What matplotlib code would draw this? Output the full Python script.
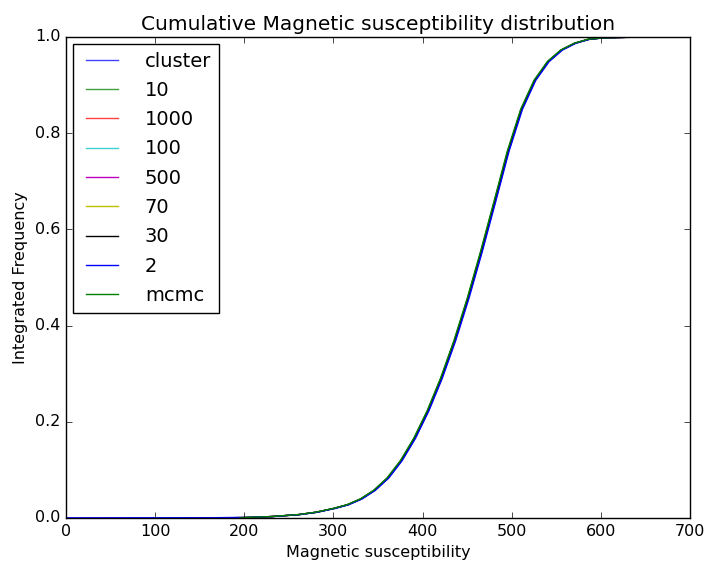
import matplotlib
matplotlib.use("Agg")
import matplotlib.pyplot as plt

plt.style.use("classic")
plt.rcParams["font.family"] = ["DejaVu Sans"]
plt.rcParams["font.size"] = 11.5

# cumulative frequency levels (shared)
levels = [0.0, 0.0005, 0.001, 0.003, 0.007, 0.012, 0.020, 0.0275, 0.0395, 0.0575,
          0.083, 0.119, 0.1655, 0.2225, 0.290, 0.368, 0.4565, 0.554, 0.6575, 0.7625,
          0.8495, 0.910, 0.949, 0.973, 0.987, 0.995, 0.998, 0.999, 1.0]

labels = ["cluster", "10", "1000", "100", "500", "70", "30", "2", "mcmc"]
colors = ["b", "g", "r", "c", "m", "y", "k", "b", "g"]
alphas = [0.75, 0.75, 0.75, 0.75, 1.0, 1.0, 1.0, 1.0, 1.0]

# x positions (magnetic susceptibility) at which each series reaches each level
x_cluster = [0, 150, 200, 231.5, 261.5, 281.5, 301.5, 316.5, 331.5, 346.5, 361.5, 376.5, 391.5, 406.5, 421.5, 436.5, 451.5, 466.5, 481.5, 496.5, 511.5, 526.5, 541.5, 556.5, 571.5, 586.5, 601.5, 621, 640]
x_10 = [160, 190, 205, 230.5, 260.5, 280.5, 300.5, 315.5, 330.5, 345.5, 360.5, 375.5, 390.5, 405.5, 420.5, 435.5, 450.5, 465.5, 480.5, 495.5, 510.5, 525.5, 540.5, 555.5, 570.5, 585.5, 600.5, 620, 648]
x_1000 = [150, 185, 204, 231, 261, 281, 301, 316, 331, 346, 361, 376, 391, 406, 421, 436, 451, 466, 481, 496, 511, 526, 541, 556, 571, 586, 601, 620, 645]
x_100 = [100, 170, 203, 231, 261, 281, 301, 316, 331, 346, 361, 376, 391, 406, 421, 436, 451, 466, 481, 496, 511, 526, 541, 556, 571, 586, 601, 621, 650]
x_500 = [140, 180, 203, 230.5, 260.5, 280.5, 300.5, 315.5, 330.5, 345.5, 360.5, 375.5, 390.5, 405.5, 420.5, 435.5, 450.5, 465.5, 480.5, 495.5, 510.5, 525.5, 540.5, 555.5, 570.5, 585.5, 600.5, 622, 664]
x_70 = [160, 190, 205, 231, 261, 281, 301, 316, 331, 346, 361, 376, 391, 406, 421, 436, 451, 466, 481, 496, 511, 526, 541, 556, 571, 586, 601, 620, 645]
x_30 = [150, 185, 204, 231, 261, 281, 301, 316, 331, 346, 361, 376, 391, 406, 421, 436, 451, 466, 481, 496, 511, 526, 541, 556, 571, 586, 601, 620, 648]
x_2 = [0, 160, 202, 232, 262, 282, 302, 317, 332, 347, 362, 377, 392, 407, 422, 437, 452, 467, 482, 497, 512, 527, 542, 557, 572, 587, 602, 622, 642]
x_mcmc = [195, 198, 200, 230, 260, 280, 300, 315, 330, 345, 360, 375, 390, 405, 420, 435, 450, 465, 480, 495, 510, 525, 540, 555, 570, 585, 600, 620, 652]

series_x = [x_cluster, x_10, x_1000, x_100, x_500, x_70, x_30, x_2, x_mcmc]

fig = plt.figure(figsize=(7.09, 5.62), dpi=100, facecolor="white")
ax = fig.add_axes([0.0931, 0.0783, 0.8801, 0.8559])
for xs, lab, col, a in zip(series_x, labels, colors, alphas):
    ax.plot(xs, levels, color=col, label=lab, lw=1.0, alpha=a)

ax.set_xlim(0, 700)
ax.set_ylim(0, 1.0)
ax.set_xticks(range(0, 701, 100))
ax.set_yticks([0.0, 0.2, 0.4, 0.6, 0.8, 1.0])
ax.set_title("Cumulative Magnetic susceptibility distribution", fontsize=14.5)
ax.set_xlabel("Magnetic susceptibility", fontsize=11.5)
ax.set_ylabel("Integrated Frequency", fontsize=11.5)
leg = ax.legend(loc="upper left", fontsize=14, handlelength=2.2, handletextpad=1.1,
                borderaxespad=0.35, labelspacing=0.53, frameon=True)
leg.get_frame().set_edgecolor("black")

fig.savefig("out.png", dpi=100, facecolor="white")
